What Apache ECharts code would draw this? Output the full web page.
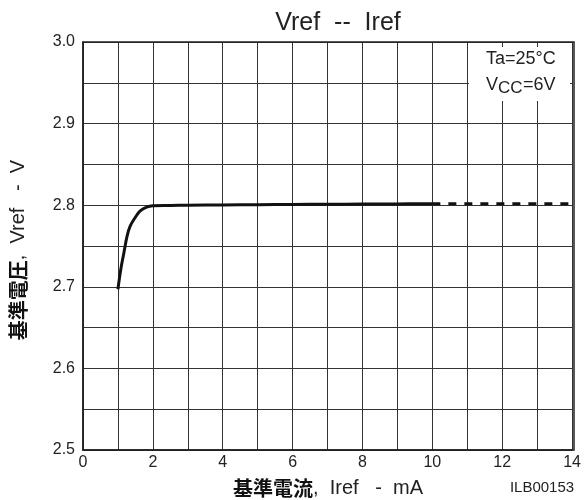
<!DOCTYPE html>
<html>
<head>
<meta charset="utf-8">
<script src="https://cdn.jsdelivr.net/npm/echarts@6/dist/echarts.min.js"></script>
<style>html,body{margin:0;padding:0;background:#fff;}#c{width:584px;height:500px;}</style>
</head>
<body>
<div id="c"></div>
<script>
var titleText = 'Vref  --  Iref';
var xTicks = [0, 2, 4, 6, 8, 10, 12, 14];
var yTicks = [2.5, 2.6, 2.7, 2.8, 2.9, 3.0];
var irefSolid = [1.0, 1.08, 1.17, 1.26, 1.35, 1.49, 1.63, 1.82, 2.0, 2.5, 3, 4, 5, 6, 7, 8, 9, 10];
var vrefSolid = [2.697, 2.721, 2.7415, 2.7617, 2.7744, 2.7846, 2.7927, 2.7976, 2.7993, 2.7997, 2.8, 2.8003, 2.8006, 2.8009, 2.8012, 2.8014, 2.8016, 2.8018];
var irefDashed = [10, 14];
var vrefDashed = [2.8018, 2.8018];

var font = '"Liberation Sans", Arial, sans-serif';
var cjk = '"Noto Sans CJK JP", sans-serif';
var chart = echarts.init(document.getElementById('c'));
function pairs(xs, ys){ return xs.map(function(x,i){ return [x, ys[i]]; }); }
chart.setOption({
  animation: false,
  backgroundColor: '#fff',
  title: {
    text: titleText, left: 333, top: 6, textAlign: 'center',
    textStyle: {fontFamily: font, fontSize: 25, fontWeight: 'normal', color: '#222'}
  },
  grid: {left: 83, right: 10, top: 42, bottom: 50},
  xAxis: {
    type: 'value', min: 0, max: 14, interval: 1,
    axisLine: {show: true, lineStyle: {color: '#222', width: 1.5}, onZero: false},
    axisTick: {show: false},
    axisLabel: {
      color: '#222', fontFamily: font, fontSize: 16, margin: 5,
      formatter: function(v){ return xTicks.indexOf(v) >= 0 ? String(v) : ''; }
    },
    splitLine: {show: true, lineStyle: {color: '#333', width: 1}}
  },
  yAxis: {
    type: 'value', min: 2.5, max: 3.0, interval: 0.05,
    axisLine: {show: true, lineStyle: {color: '#222', width: 1.5}, onZero: false},
    axisTick: {show: false},
    axisLabel: {
      color: '#222', fontFamily: font, fontSize: 16, margin: 8,
      formatter: function(v){
        var r = Math.round(v * 100) / 100;
        for (var i = 0; i < yTicks.length; i++) { if (Math.abs(yTicks[i] - r) < 1e-6) return r.toFixed(1); }
        return '';
      }
    },
    splitLine: {show: true, lineStyle: {color: '#333', width: 1}}
  },
  series: [
    {type: 'line', data: pairs(irefSolid, vrefSolid), smooth: 0.4, showSymbol: false,
     lineStyle: {color: '#111', width: 3}, z: 5},
    {type: 'line', data: pairs(irefDashed, vrefDashed), showSymbol: false,
     lineStyle: {color: '#111', width: 3, type: [8, 8]}, z: 5}
  ],
  graphic: [
    {type: 'rect', shape: {x: 83, y: 42, width: 491, height: 408},
     style: {fill: 'none', stroke: '#222', lineWidth: 1.5}, z: 10},
    {type: 'rect', shape: {x: 469, y: 47, width: 101, height: 54},
     style: {fill: '#fff'}, z: 8},
    {type: 'text', left: 486, top: 50, z: 9,
     style: {text: 'Ta=25°C', font: '18px ' + font, fill: '#222'}},
    {type: 'text', left: 486, top: 76, z: 9,
     style: {text: 'V', font: '18px ' + font, fill: '#222'}},
    {type: 'text', left: 498, top: 80, z: 9,
     style: {text: 'CC', font: '17px ' + font, fill: '#222'}},
    {type: 'text', left: 523, top: 76, z: 9,
     style: {text: '=6V', font: '18px ' + font, fill: '#222'}},
    {type: 'text', x: 233, y: 488, z: 9,
     style: {text: '{b|基準電流}{r|,  Iref   -  mA}', align: 'left', verticalAlign: 'middle',
       rich: {b: {fontSize: 20, fontWeight: 'bold', fontFamily: cjk, fill: '#111'},
              r: {fontSize: 20, fontFamily: font, fill: '#222'}}}},
    {type: 'text', x: 542, y: 488, z: 9,
     style: {text: 'ILB00153', align: 'center', verticalAlign: 'middle', font: '15px ' + font, fill: '#222'}},
    {type: 'text', x: 18, y: 250, rotation: Math.PI / 2, z: 9,
     style: {text: '{b|基準電圧}{r|,  Vref   -  V}', align: 'center', verticalAlign: 'middle',
       rich: {b: {fontSize: 20, fontWeight: 'bold', fontFamily: cjk, fill: '#111'},
              r: {fontSize: 20, fontFamily: font, fill: '#222'}}}}
  ]
});
</script>
</body>
</html>
